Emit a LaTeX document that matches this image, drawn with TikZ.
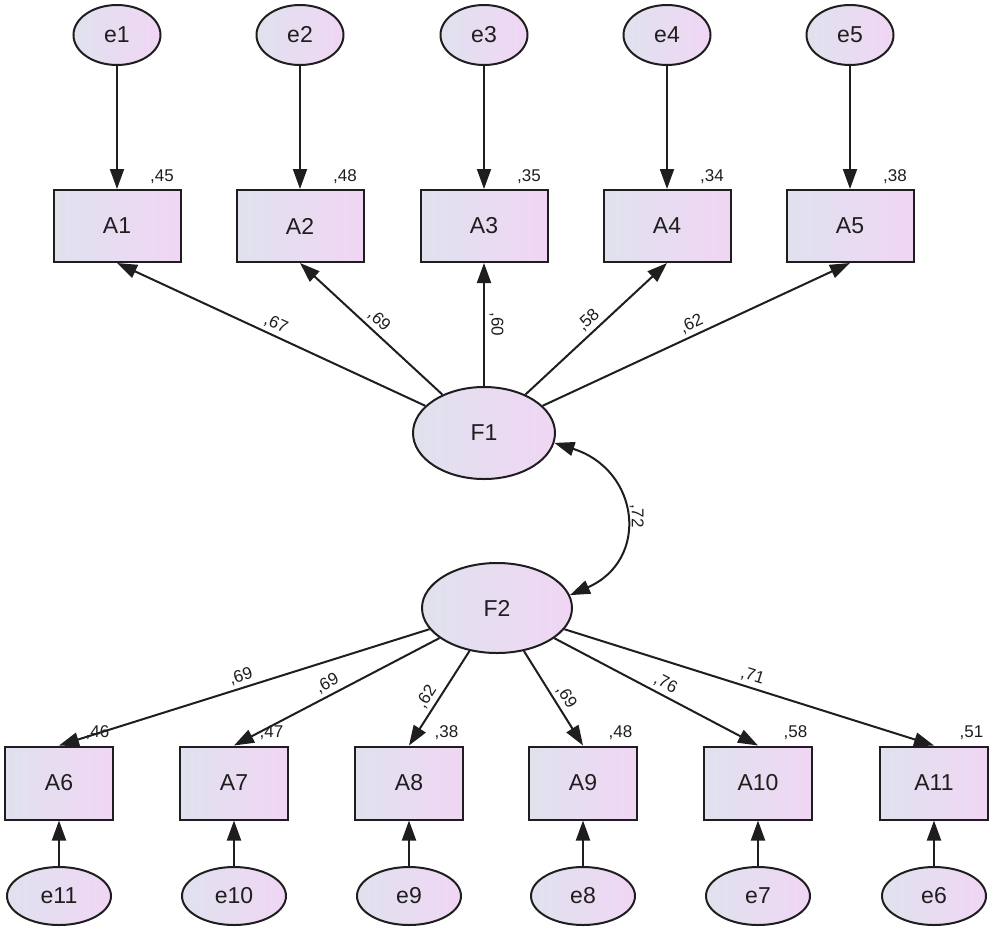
\documentclass[tikz,border=0pt]{standalone}
\usepackage{fontspec}
\setmainfont{Liberation Sans}
\usetikzlibrary{arrows.meta,shapes.geometric,calc}
\definecolor{fillL}{RGB}{224,226,238}
\definecolor{fillR}{RGB}{240,214,244}
\definecolor{ink}{RGB}{30,30,30}
\begin{document}
\begin{tikzpicture}[x=1pt,y=-1pt,
  base/.style={draw=ink, line width=2pt, left color=fillL, right color=fillR,
    text=ink, font=\fontsize{23}{26}\selectfont, inner sep=0pt},
  obs/.style={base, rectangle, minimum width=127pt, minimum height=72pt},
  obsb/.style={base, rectangle, minimum width=108pt, minimum height=73pt},
  err/.style={base, ellipse, minimum width=87pt, minimum height=60pt},
  errb/.style={base, ellipse, minimum width=104pt, minimum height=58pt},
  fac/.style={base, ellipse, minimum width=142pt, minimum height=92pt},
  lab/.style={font=\fontsize{17}{19}\selectfont, text=ink, inner sep=1.5pt},
  arr/.style={draw=ink, line width=2pt, -{Triangle[length=20pt,width=14pt]}},
  arrtwo/.style={draw=ink, line width=2pt, {Triangle[length=20pt,width=14pt]}-{Triangle[length=20pt,width=14pt]}},
]
\useasboundingbox (0,0) rectangle (995,930);
% top error terms
\node[err] (e1) at (117,35) {e1};
\node[err] (e2) at (300,35) {e2};
\node[err] (e3) at (484,35) {e3};
\node[err] (e4) at (667,35) {e4};
\node[err] (e5) at (850,35) {e5};
% top indicators
\node[obs] (A1) at (117,226) {A1};
\node[obs] (A2) at (300,226) {A2};
\node[obs] (A3) at (484,226) {A3};
\node[obs] (A4) at (667,226) {A4};
\node[obs] (A5) at (850,226) {A5};
% factors
\node[fac] (F1) at (484,433) {F1};
\node[fac, minimum width=150pt, minimum height=90pt] (F2) at (497,608) {F2};
% bottom indicators
\node[obsb] (A6) at (59,783) {A6};
\node[obsb] (A7) at (234,783) {A7};
\node[obsb] (A8) at (409,783) {A8};
\node[obsb] (A9) at (583,783) {A9};
\node[obsb] (A10) at (758,783) {A10};
\node[obsb] (A11) at (934,783) {A11};
% bottom error terms
\node[errb] (e11) at (59,896) {e11};
\node[errb] (e10) at (234,896) {e10};
\node[errb] (e9) at (409,896) {e9};
\node[errb] (e8) at (583,896) {e8};
\node[errb] (e7) at (758,896) {e7};
\node[errb] (e6) at (934,896) {e6};
% squared multiple correlations
\node[lab, anchor=base east] (r1) at ($(A1.north east)+(-6,-8)$) {,45};
\node[lab, anchor=base east] (r2) at ($(A2.north east)+(-6,-8)$) {,48};
\node[lab, anchor=base east] (r3) at ($(A3.north east)+(-6,-8)$) {,35};
\node[lab, anchor=base east] (r4) at ($(A4.north east)+(-6,-8)$) {,34};
\node[lab, anchor=base east] (r5) at ($(A5.north east)+(-6,-8)$) {,38};
\node[lab, anchor=base east] (r6) at ($(A6.north east)+(-3,-8)$) {,46};
\node[lab, anchor=base east] (r7) at ($(A7.north east)+(-4,-8)$) {,47};
\node[lab, anchor=base east] (r8) at ($(A8.north east)+(-4,-8)$) {,38};
\node[lab, anchor=base east] (r9) at ($(A9.north east)+(-4,-8)$) {,48};
\node[lab, anchor=base east] (r10) at ($(A10.north east)+(-4,-8)$) {,58};
\node[lab, anchor=base east] (r11) at ($(A11.north east)+(-4,-8)$) {,51};
% error arrows
\draw[arr] (e1) -- (A1);
\draw[arr] (e2) -- (A2);
\draw[arr] (e3) -- (A3);
\draw[arr] (e4) -- (A4);
\draw[arr] (e5) -- (A5);
\draw[arr] (e11) -- (A6);
\draw[arr] (e10) -- (A7);
\draw[arr] (e9) -- (A8);
\draw[arr] (e8) -- (A9);
\draw[arr] (e7) -- (A10);
\draw[arr] (e6) -- (A11);
% F1 loadings
\draw[arr] (F1) -- (A1.south) node[lab, pos=0.5, sloped, above, inner sep=3.5pt] {,67};
\draw[arr] (F1) -- (A2.south) node[lab, pos=0.5, sloped, above, inner sep=3.5pt] {,69};
\draw[arr] (F1) -- (A3.south) node[lab, pos=0.5, rotate=-90, anchor=south, inner sep=4.5pt] {,60};
\draw[arr] (F1) -- (A4.south) node[lab, pos=0.5, sloped, above, inner sep=3.5pt] {,58};
\draw[arr] (F1) -- (A5.south) node[lab, pos=0.5, sloped, above, inner sep=3.5pt] {,62};
% covariance
\draw[arrtwo] (F1.-8) .. controls (640,470) and (650,560) .. (F2.10)
  node[lab, pos=0.5, rotate=-90, anchor=south, inner sep=4.5pt] {,72};
% F2 loadings
\draw[arr] (F2) -- (A6.north) node[lab, pos=0.5, sloped, above, inner sep=3.5pt] {,69};
\draw[arr] (F2) -- (A7.north) node[lab, pos=0.52, sloped, above, inner sep=3.5pt] {,69};
\draw[arr] (F2) -- (A8.north) node[lab, pos=0.55, sloped, above, inner sep=3.5pt] {,62};
\draw[arr] (F2) -- (A9.north) node[lab, pos=0.55, sloped, above, inner sep=3.5pt] {,69};
\draw[arr] (F2) -- (A10.north) node[lab, pos=0.52, sloped, above, inner sep=3.5pt] {,76};
\draw[arr] (F2) -- (A11.north) node[lab, pos=0.5, sloped, above, inner sep=3.5pt] {,71};
\end{tikzpicture}
\end{document}
